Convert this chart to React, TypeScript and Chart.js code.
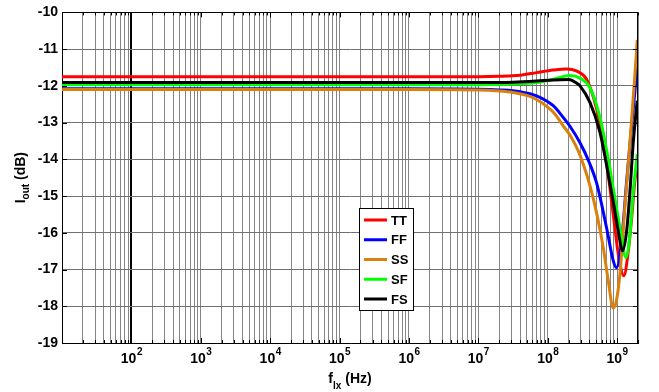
import React, { useEffect, useRef } from "react";
import { Chart, registerables } from "chart.js";

Chart.register(...registerables);

const FONT = "'Liberation Sans', Arial, Helvetica, sans-serif";

// ---- axis ranges & tick labels ----
const xMin = 10;
const xMax = 2e9;
const yMin = -19;
const yMax = -10;
const xDecadeExponents = [2, 3, 4, 5, 6, 7, 8, 9];
const xGridMantissas = [1, 2, 3, 4, 5, 6, 7, 8, 9];

// ---- series ----
const seriesNames = ["TT", "FF", "SS", "SF", "FS"];
const seriesColors = ["#ff0000", "#0000ff", "#d9800d", "#00ff00", "#000000"];

const freqTT = [10, 1e6, 1e7, 2e7, 4e7, 6.9e7, 1.2e8, 1.86e8, 2.63e8, 3.63e8, 5.07e8, 6.31e8, 7.45e8, 8.79e8, 1.04e9, 1.25e9, 1.45e9, 1.62e9, 1.8e9, 1.95e9];
const valTT = [-11.75, -11.75, -11.75, -11.74, -11.71, -11.64, -11.57, -11.54, -11.6, -11.82, -12.63, -13.53, -14.43, -15.5, -16.58, -17.17, -16.5, -15.6, -14.6, -14.2];

const freqFF = [10, 1e6, 1e7, 2e7, 4e7, 6.9e7, 1.2e8, 1.66e8, 2.09e8, 2.92e8, 4e8, 5.07e8, 7.06e8, 8.79e8, 9.77e8, 1.16e9, 1.37e9, 1.62e9, 1.95e9];
const valFF = [-12.08, -12.08, -12.09, -12.11, -12.16, -12.27, -12.54, -12.85, -13.1, -13.55, -14.1, -14.65, -15.87, -16.76, -16.95, -16.22, -14.61, -13.08, -11.5];

const freqSS = [10, 1e6, 1e7, 2e7, 3.16e7, 5e7, 6.9e7, 1e8, 1.26e8, 1.66e8, 2.09e8, 2.92e8, 4.53e8, 6.31e8, 7.45e8, 8.79e8, 9.77e8, 1.1e9, 1.29e9, 1.53e9, 1.8e9, 1.95e9];
const valSS = [-12.1, -12.1, -12.11, -12.14, -12.18, -12.26, -12.37, -12.58, -12.76, -13.08, -13.34, -13.89, -15.06, -16.4, -17.3, -18.05, -17.85, -17.1, -15.33, -13.53, -11.73, -10.75];

const freqSF = [10, 1e6, 1e7, 3.16e7, 6.9e7, 1.2e8, 2.09e8, 2.92e8, 4.06e8, 5.65e8, 7.06e8, 8.79e8, 1.1e9, 1.34e9, 1.53e9, 1.71e9, 1.95e9];
const valSF = [-11.97, -11.97, -11.97, -11.95, -11.91, -11.82, -11.72, -11.79, -12.05, -12.85, -13.75, -14.79, -15.87, -16.67, -16.04, -14.88, -13.85];

const freqFS = [10, 1e6, 1e7, 3.16e7, 6.9e7, 1.2e8, 2e8, 2.63e8, 2.92e8, 4.06e8, 5.65e8, 7.06e8, 8.79e8, 1.04e9, 1.2e9, 1.37e9, 1.53e9, 1.71e9, 1.95e9];
const valFS = [-11.91, -11.91, -11.91, -11.9, -11.87, -11.84, -11.83, -11.93, -12.0, -12.45, -13.26, -14.16, -15.15, -15.96, -16.49, -15.96, -14.88, -13.53, -12.4];

const seriesFreqs = [freqTT, freqFF, freqSS, freqSF, freqFS];
const seriesVals = [valTT, valFF, valSS, valSF, valFS];
// later series drawn on top (lower order = on top in Chart.js)
const seriesOrder = [4, 3, 2, 1, 0];

function buildXTicks() {
  const t: { value: number }[] = [];
  for (let e = 1; e <= 9; e++) {
    for (const m of xGridMantissas) {
      const v = m * Math.pow(10, e);
      if (v >= xMin && v <= xMax) t.push({ value: v });
    }
  }
  return t;
}

const overlayPlugin = {
  id: "overlay",
  afterDraw(chart: any) {
    const { ctx, chartArea: a, scales } = chart;
    const xs = scales.x;
    const ys = scales.y;
    ctx.save();
    // top & right border
    ctx.strokeStyle = "#000";
    ctx.lineWidth = 1;
    ctx.beginPath();
    ctx.moveTo(a.left, Math.round(a.top) + 0.5);
    ctx.lineTo(a.right, Math.round(a.top) + 0.5);
    ctx.moveTo(Math.round(a.right) - 0.5, a.top);
    ctx.lineTo(Math.round(a.right) - 0.5, a.bottom);
    ctx.stroke();

    // inward tick marks
    ctx.beginPath();
    for (const t of xs.ticks) {
      const px = Math.round(xs.getPixelForValue(t.value)) + 0.5;
      const isMajor = Math.abs(Math.log10(t.value) - Math.round(Math.log10(t.value))) < 1e-9;
      const len = isMajor ? 5 : 3;
      ctx.moveTo(px, a.bottom);
      ctx.lineTo(px, a.bottom - len);
      ctx.moveTo(px, a.top);
      ctx.lineTo(px, a.top + len);
    }
    for (let v = yMin; v <= yMax; v++) {
      const py = Math.round(ys.getPixelForValue(v)) + 0.5;
      ctx.moveTo(a.left, py);
      ctx.lineTo(a.left + 5, py);
      ctx.moveTo(a.right, py);
      ctx.lineTo(a.right - 5, py);
    }
    ctx.stroke();

    // x tick labels 10^n
    ctx.fillStyle = "#000";
    ctx.textBaseline = "alphabetic";
    ctx.textAlign = "left";
    for (const e of xDecadeExponents) {
      const px = xs.getPixelForValue(Math.pow(10, e));
      ctx.font = `bold 14px ${FONT}`;
      const w1 = ctx.measureText("10").width;
      ctx.font = `bold 10px ${FONT}`;
      const w2 = ctx.measureText(String(e)).width;
      const start = px - (w1 + w2) / 2;
      ctx.font = `bold 14px ${FONT}`;
      ctx.fillText("10", start, 363);
      ctx.font = `bold 10px ${FONT}`;
      ctx.fillText(String(e), start + w1 + 0.5, 355);
    }

    // x title: f_lx (Hz)
    {
      ctx.font = `bold 14px ${FONT}`;
      const wf = ctx.measureText("f").width;
      const wr = ctx.measureText(" (Hz)").width;
      ctx.font = `bold 10px ${FONT}`;
      const ws = ctx.measureText("lx").width;
      const total = wf + ws + wr;
      const cx = (a.left + a.right) / 2;
      let sx = cx - total / 2;
      ctx.font = `bold 14px ${FONT}`;
      ctx.fillText("f", sx, 383);
      sx += wf;
      ctx.font = `bold 10px ${FONT}`;
      ctx.fillText("lx", sx, 389);
      sx += ws;
      ctx.font = `bold 14px ${FONT}`;
      ctx.fillText(" (Hz)", sx, 383);
    }

    // y title: I_out (dB)
    {
      ctx.font = `bold 14px ${FONT}`;
      const wi = ctx.measureText("I").width;
      const wr = ctx.measureText(" (dB)").width;
      ctx.font = `bold 10px ${FONT}`;
      const ws = ctx.measureText("out").width;
      const total = wi + ws + wr;
      const cy = (a.top + a.bottom) / 2;
      ctx.translate(25, cy + total / 2);
      ctx.rotate(-Math.PI / 2);
      let sx = 0;
      ctx.font = `bold 14px ${FONT}`;
      ctx.fillText("I", sx, 0);
      sx += wi;
      ctx.font = `bold 10px ${FONT}`;
      ctx.fillText("out", sx, 4);
      sx += ws;
      ctx.font = `bold 14px ${FONT}`;
      ctx.fillText(" (dB)", sx, 0);
      ctx.setTransform(1, 0, 0, 1, 0, 0);
    }

    // legend
    {
      const bx = 359.5, by = 208.5, bw = 54, bh = 102;
      ctx.fillStyle = "#fff";
      ctx.fillRect(bx, by, bw, bh);
      ctx.strokeStyle = "#000";
      ctx.lineWidth = 1;
      ctx.strokeRect(bx, by, bw, bh);
      const rowY = [220, 239.75, 259.5, 279.25, 299];
      ctx.font = `bold 13px ${FONT}`;
      ctx.textBaseline = "middle";
      for (let i = 0; i < seriesNames.length; i++) {
        ctx.strokeStyle = seriesColors[i];
        ctx.lineWidth = 3;
        ctx.beginPath();
        ctx.moveTo(364, rowY[i]);
        ctx.lineTo(387, rowY[i]);
        ctx.stroke();
        ctx.fillStyle = "#000";
        ctx.fillText(seriesNames[i], 391, rowY[i] + 1);
      }
    }
    ctx.restore();
  },
};

export default function App() {
  const ref = useRef<HTMLCanvasElement | null>(null);
  useEffect(() => {
    if (!ref.current) return;
    const datasets = seriesNames.map((name, i) => ({
      label: name,
      data: seriesFreqs[i].map((f, j) => ({ x: f, y: seriesVals[i][j] })),
      borderColor: seriesColors[i],
      backgroundColor: seriesColors[i],
      borderWidth: 3,
      pointRadius: 0,
      fill: false,
      cubicInterpolationMode: "monotone" as const,
      order: seriesOrder[i],
    }));
    const chart = new Chart(ref.current, {
      type: "line",
      data: { datasets },
      options: {
        animation: false,
        responsive: false,
        maintainAspectRatio: false,
        layout: { padding: { left: 0, right: 21, top: 9, bottom: 0 } },
        plugins: { legend: { display: false }, tooltip: { enabled: false } },
        scales: {
          x: {
            type: "logarithmic",
            min: xMin,
            max: xMax,
            afterBuildTicks: (scale: any) => {
              scale.ticks = buildXTicks();
            },
            afterFit: (scale: any) => {
              scale.height = 49;
            },
            ticks: { display: false },
            grid: {
              drawTicks: false,
              color: (c: any) => (c.tick && c.tick.value === 100 ? "#000000" : "#858585"),
              lineWidth: (c: any) => (c.tick && c.tick.value === 100 ? 2 : 1),
            },
            border: { display: true, color: "#000", width: 1 },
          },
          y: {
            type: "linear",
            min: yMin,
            max: yMax,
            afterFit: (scale: any) => {
              scale.width = 62;
            },
            ticks: {
              stepSize: 1,
              color: "#000",
              padding: 4,
              font: { family: FONT, size: 14, weight: "bold" },
            },
            grid: { drawTicks: false, color: "#707070", lineWidth: 1 },
            border: { display: true, color: "#000", width: 1 },
          },
        },
      },
      plugins: [overlayPlugin],
    });
    return () => chart.destroy();
  }, []);
  return (
    <div style={{ position: "absolute", left: 0, top: 0, width: 659, height: 392, background: "#fff" }}>
      <canvas ref={ref} width={659} height={392} style={{ display: "block" }} />
    </div>
  );
}
